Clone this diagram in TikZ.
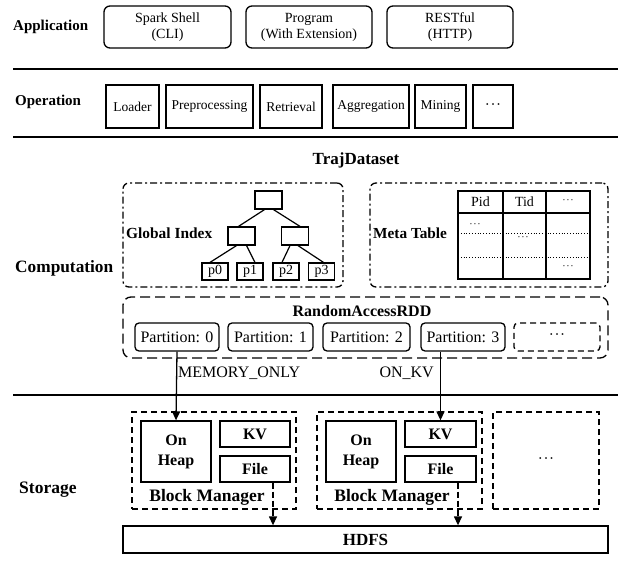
\documentclass[tikz,border=0pt]{standalone}
\usepackage{fontspec}
\setmainfont{Liberation Serif}
\usetikzlibrary{arrows.meta,calc}
\newcommand{\mydots}{\textperiodcentered\kern0.6pt\textperiodcentered\kern0.6pt\textperiodcentered}
\begin{document}
\begin{tikzpicture}[x=1pt,y=-1pt,
  box/.style={draw,line width=1.3pt,inner sep=0pt,align=center},
  rbox/.style={box,rounded corners=6pt},
  sep/.style={line width=1.8pt},
  dashdotbox/.style={draw,line width=1.3pt,rounded corners=6pt,dash pattern=on 7pt off 3pt on 2pt off 3pt},
  rddbox/.style={draw,line width=1.3pt,rounded corners=8pt,dash pattern=on 10pt off 5pt},
  bmbox/.style={draw,line width=1.3pt,dash pattern=on 6pt off 4pt,inner sep=0pt},
  seclbl/.style={inner sep=0pt,font=\bfseries\fontsize{15}{18}\selectfont},
  toptxt/.style={font=\fontsize{14}{16}\selectfont},
  optxt/.style={font=\fontsize{13.5}{16}\selectfont},
  parttxt/.style={font=\fontsize{16}{18}\selectfont},
  boldtxt/.style={font=\bfseries\fontsize{16}{20}\selectfont},
  smdots/.style={inner sep=0pt,font=\fontsize{10}{12}\selectfont},
  bigdots/.style={font=\fontsize{15}{18}\selectfont},
  tl/.style={line width=1.2pt},
  tbl/.style={line width=1.2pt},
  dotl/.style={line width=0.8pt,dotted},
  arr/.style={line width=1.3pt,-{Triangle[length=9pt,width=8pt]}},
  darr/.style={line width=1.3pt,dash pattern=on 6pt off 3pt,-{Triangle[length=9pt,width=8pt]}},
]
\useasboundingbox (0,0) rectangle (618,561);

% ---------- Application ----------
\node[seclbl,anchor=west] (lapp) at (13,27) {Application};
\node[rbox,toptxt,minimum width=127pt,minimum height=42pt] (app1) at (167.5,27) {Spark Shell\\(CLI)};
\node[rbox,toptxt,minimum width=126pt,minimum height=42pt] (app2) at (309,27) {Program\\(With Extension)};
\node[rbox,toptxt,minimum width=126pt,minimum height=42pt] (app3) at (450,27) {RESTful\\(HTTP)};
\coordinate (s1a) at (13,69); \coordinate (s1b) at (618,69);
\draw[sep] (s1a) -- (s1b);

% ---------- Operation ----------
\node[seclbl,anchor=west] (lop) at (15,102) {Operation};
\node[box,optxt,minimum width=53pt,minimum height=43pt] (op1) at (132.5,106.5) {Loader};
\node[box,optxt,minimum width=87pt,minimum height=43pt] (op2) at (209.5,106.5) {Preprocessing};
\node[box,optxt,minimum width=62pt,minimum height=43pt] (op3) at (291,106.5) {Retrieval};
\node[box,optxt,minimum width=76pt,minimum height=43pt] (op4) at (371,106.5) {Aggregation};
\node[box,optxt,minimum width=51pt,minimum height=43pt] (op5) at (440.5,106.5) {Mining};
\node[box,bigdots,minimum width=40pt,minimum height=43pt] (op6) at (493,106.5) {\mydots};
\coordinate (s2a) at (13,137); \coordinate (s2b) at (618,137);
\draw[sep] (s2a) -- (s2b);

% ---------- Computation ----------
\node[seclbl,anchor=west,font=\bfseries\fontsize{17.3}{20}\selectfont] (lcomp) at (15,268) {Computation};
\node[inner sep=0pt,font=\bfseries\fontsize{17}{20}\selectfont] (traj) at (356,160) {TrajDataset};

% Global index
\node[dashdotbox,minimum width=220pt,minimum height=104pt] (gi) at (233,235) {};
\node[inner sep=0pt,anchor=west,font=\bfseries\fontsize{15.4}{18}\selectfont] (gilbl) at (126,233) {Global Index};
\node[box,line width=1.2pt,minimum width=27pt,minimum height=18pt] (root) at (268.5,200) {};
\node[box,line width=1.2pt,minimum width=27pt,minimum height=18pt] (ml) at (241.5,236) {};
\node[box,line width=1.2pt,minimum width=27pt,minimum height=18pt] (mr) at (295,236) {};
\node[box,line width=1.2pt,minimum width=26pt,minimum height=17pt,toptxt] (p0) at (215,271.5) {p0};
\node[box,line width=1.2pt,minimum width=26pt,minimum height=17pt,toptxt] (p1) at (250,271.5) {p1};
\node[box,line width=1.2pt,minimum width=26pt,minimum height=17pt,toptxt] (p2) at (286,271.5) {p2};
\node[box,line width=1.2pt,minimum width=26pt,minimum height=17pt,toptxt] (p3) at (321.5,271.5) {p3};
\draw[tl] ($(root.south)+(-4,0)$) -- ($(ml.north)+(-3,0)$);
\draw[tl] ($(root.south)+(5,0)$) -- ($(mr.north)+(5,0)$);
\draw[tl] ($(ml.south)+(-5,0)$) -- ($(p0.north)+(-5,0)$);
\draw[tl] ($(ml.south)+(5,0)$) -- ($(p1.north)+(5,0)$);
\draw[tl] ($(mr.south)+(-5,0)$) -- ($(p2.north)+(-4,0)$);
\draw[tl] ($(mr.south)+(3,0)$) -- ($(p3.north)+(2,0)$);

% Meta table
\node[dashdotbox,minimum width=238pt,minimum height=104pt] (mt) at (489,235) {};
\node[inner sep=0pt,anchor=west,font=\bfseries\fontsize{15.3}{18}\selectfont] (mtlbl) at (373,233) {Meta Table};
\coordinate (ta) at (458,191); \coordinate (tb) at (590,279);
\draw[tbl] (ta) rectangle (tb);
\draw[tbl] (503,191) -- (503,279);
\draw[tbl] (546,191) -- (546,279);
\draw[tbl] (458,213) -- (590,213);
\draw[dotl] (458,233) -- (590,233);
\draw[dotl] (458,257) -- (590,257);
\node[toptxt,inner sep=0pt] (pid) at (480.5,202) {Pid};
\node[toptxt,inner sep=0pt] (tid) at (524.5,202) {Tid};
\node[smdots] (hdots) at (568,202) {\mydots};
\node[smdots] (c1dots) at (475,226) {\mydots};
\node[smdots] (c2dots) at (523,239) {\mydots};
\node[smdots] (c3dots) at (568,268) {\mydots};

% RandomAccessRDD
\node[rddbox,minimum width=485pt,minimum height=61pt] (rdd) at (365.5,327.5) {};
\node[inner sep=0pt,font=\bfseries\fontsize{16}{20}\selectfont] (rddlbl) at (362,311) {RandomAccessRDD};
\node[rbox,rounded corners=4pt,parttxt,minimum width=84pt,minimum height=28pt] (part0) at (177,337) {Partition: 0};
\node[rbox,rounded corners=4pt,parttxt,minimum width=85pt,minimum height=28pt] (part1) at (270.5,337) {Partition: 1};
\node[rbox,rounded corners=4pt,parttxt,minimum width=87pt,minimum height=28pt] (part2) at (366.5,337) {Partition: 2};
\node[rbox,rounded corners=4pt,parttxt,minimum width=84pt,minimum height=28pt] (part3) at (463,337) {Partition: 3};
\node[draw,line width=1.3pt,rounded corners=4pt,dash pattern=on 6pt off 4pt,minimum width=86pt,minimum height=28pt,inner sep=0pt,bigdots] (partd) at (557,337) {\mydots};

\coordinate (s3a) at (13,395); \coordinate (s3b) at (618,395);
\draw[sep] (s3a) -- (s3b);

% ---------- Storage ----------
\node[seclbl,anchor=west,font=\bfseries\fontsize{17.5}{20}\selectfont] (lsto) at (19,490) {Storage};

\node[bmbox,minimum width=164pt,minimum height=97pt] (bm1) at (214,460.5) {};
\node[box,boldtxt,minimum width=70pt,minimum height=61pt] (heap1) at (176,451.5) {On\\Heap};
\node[box,boldtxt,minimum width=70pt,minimum height=26pt] (kv1) at (255,434) {KV};
\node[box,boldtxt,minimum width=70pt,minimum height=26pt] (file1) at (255,469) {File};
\node[inner sep=0pt,font=\bfseries\fontsize{17.5}{20}\selectfont] (bml1) at (207,497) {Block Manager};

\node[bmbox,minimum width=165pt,minimum height=97pt] (bm2) at (399.5,460.5) {};
\node[box,boldtxt,minimum width=70pt,minimum height=61pt] (heap2) at (361,451.5) {On\\Heap};
\node[box,boldtxt,minimum width=71pt,minimum height=26pt] (kv2) at (440.5,434) {KV};
\node[box,boldtxt,minimum width=71pt,minimum height=26pt] (file2) at (440.5,469) {File};
\node[inner sep=0pt,font=\bfseries\fontsize{17.5}{20}\selectfont] (bml2) at (392,497) {Block Manager};

\node[bmbox,bigdots,minimum width=106pt,minimum height=97pt] (bm3) at (546,460.5) {\mydots};

\node[box,font=\bfseries\fontsize{17}{20}\selectfont,minimum width=485pt,minimum height=27pt] (hdfs) at (365.5,539.5) {HDFS};

% arrows
\draw[arr] (part0.south) -- (heap1.north);
\draw[arr] (kv2.north |- part3.south) -- (kv2.north);
\node[parttxt,inner sep=0pt,anchor=west] (memonly) at (178,373) {MEMORY\_ONLY};
\node[parttxt,inner sep=0pt,anchor=east] (onkv) at (434,373) {ON\_KV};

\coordinate (f1o) at ($(file1.south)+(18,0)$);
\coordinate (f2o) at ($(file2.south)+(17.5,0)$);
\draw[darr] (f1o) -- (f1o |- hdfs.north);
\draw[darr] (f2o) -- (f2o |- hdfs.north);
\end{tikzpicture}
\end{document}
